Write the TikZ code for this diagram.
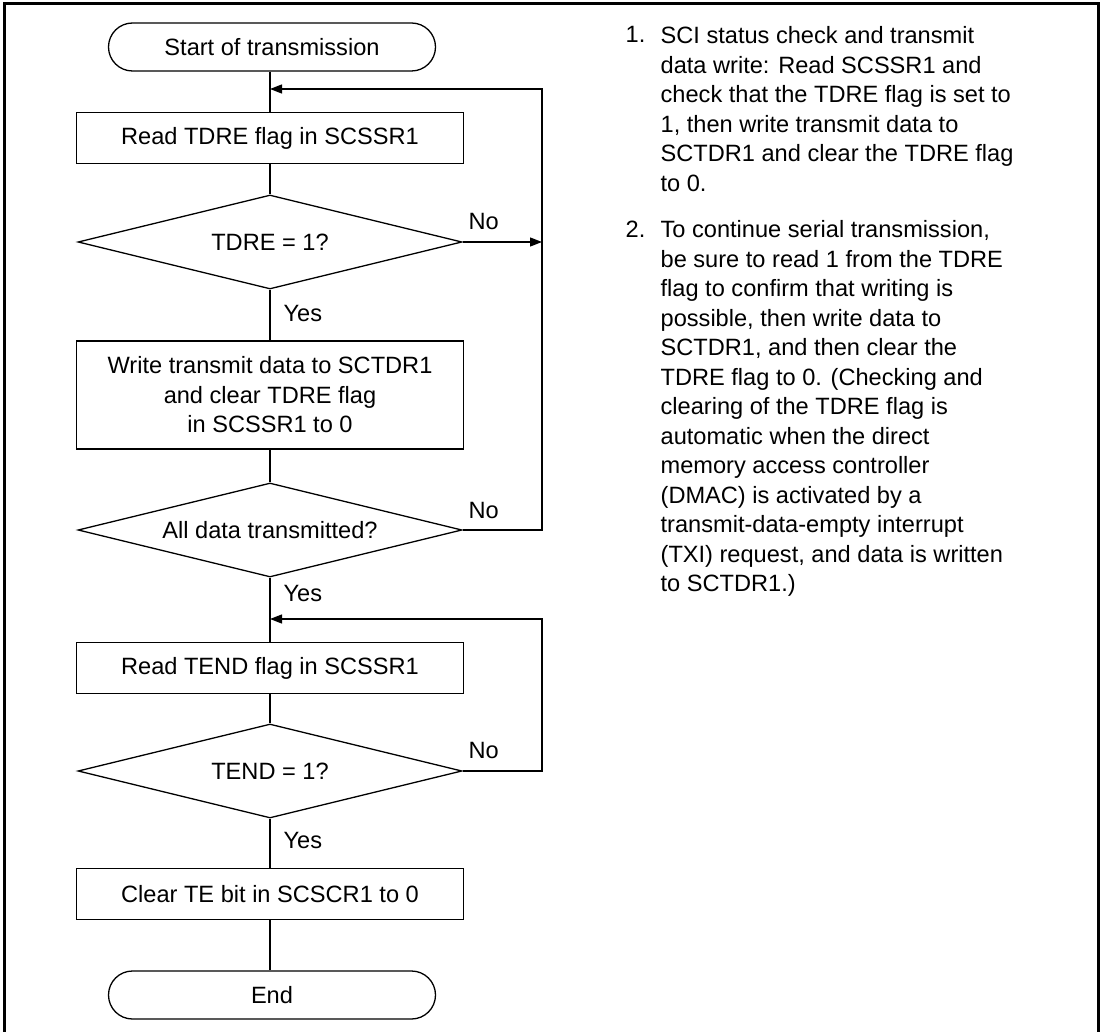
\documentclass[tikz,border=0pt]{standalone}
\usepackage{fontspec}
\setmainfont{Liberation Sans}
\usetikzlibrary{shapes.geometric,arrows.meta}

\begin{document}
\begin{tikzpicture}[x=0.5pt, y=-0.5pt, line width=0.65pt,
                    font=\fontsize{11.8}{14.75}\selectfont]
        % Estilos del diagrama
        \tikzset{term/.style={draw, rounded corners=12pt, minimum width=163.5pt, minimum height=24pt, inner sep=0pt},
                 proc/.style={draw, align=center, minimum width=193.5pt, minimum height=25.5pt, inner sep=0pt},
                 dec/.style={draw, diamond, aspect=4.1, minimum width=192pt, minimum height=47pt, inner sep=0pt},
                 flowarrow/.style={-{Triangle[length=6pt, width=4.5pt]}},
                 lbl/.style={anchor=west, inner sep=0pt},
                 note/.style={anchor=north west, align=left, inner sep=0pt}}
        \useasboundingbox (0,0) rectangle (1103,1032);

        % --- MARCO ---
        \draw[line width=1.5pt] (4,1032) -- (4,4) -- (1098,4) -- (1098,1032);

        % --- DIAGRAMA DE FLUJO ---
        \node[term] (start) at (272,47) {Start of transmission};
        \node[proc] (rdtdre) at (270,138) {Read TDRE flag in SCSSR1};
        \node[dec] (qtdre) at (270,242) {TDRE = 1?};
        \node[proc, minimum height=54pt] (wrdata) at (270,395) {Write transmit data to SCTDR1\\and clear TDRE flag\\in SCSSR1 to 0};
        \node[dec] (qall) at (270,530) {All data transmitted?};
        \node[proc] (rdtend) at (270,668) {Read TEND flag in SCSSR1};
        \node[dec] (qtend) at (270,771) {TEND = 1?};
        \node[proc] (clrte) at (270,894) {Clear TE bit in SCSCR1 to 0};
        \node[term] (stop) at (272,995) {End};

        % puntos de retorno
        \coordinate (j1) at (270,89);
        \coordinate (r1) at (542,89);
        \coordinate (j2) at (270,619);
        \coordinate (r2) at (542,619);

        \draw (rdtdre.north |- start.south) -- (rdtdre);
        \draw (rdtdre) -- (qtdre);
        \draw (qtdre) -- (wrdata);
        \draw (wrdata) -- (qall);
        \draw (qall) -- (rdtend);
        \draw (rdtend) -- (qtend);
        \draw (qtend) -- (clrte);
        \draw (clrte) -- (clrte.south |- stop.north);
        \draw[flowarrow] (qtdre.east) -- (qtdre.east -| r1);
        \draw[flowarrow] (qall.east) -| (r1) -- (j1);
        \draw[flowarrow] (qtend.east) -| (r2) -- (j2);

        % etiquetas Yes / No
        \node[lbl] (no1) at (468,221) {No};
        \node[lbl] (yes1) at (283,313) {Yes};
        \node[lbl] (no2) at (468,510) {No};
        \node[lbl] (yes2) at (283,593) {Yes};
        \node[lbl] (no3) at (468,750) {No};
        \node[lbl] (yes3) at (283,840) {Yes};

        % --- NOTAS ---
        \node[note] (num1) at (625,26) {1.};
        \node[note] (txt1) at (660,26) {SCI status check and transmit\\
            data write: Read SCSSR1 and\\
            check that the TDRE flag is set to\\
            1, then write transmit data to\\
            SCTDR1 and clear the TDRE flag\\
            to 0.};
        \node[note] (num2) at (625,220) {2.};
        \node[note] (txt2) at (660,220) {To continue serial transmission,\\
            be sure to read 1 from the TDRE\\
            flag to confirm that writing is\\
            possible, then write data to\\
            SCTDR1, and then clear the\\
            TDRE flag to 0. (Checking and\\
            clearing of the TDRE flag is\\
            automatic when the direct\\
            memory access controller\\
            (DMAC) is activated by a\\
            transmit-data-empty interrupt\\
            (TXI) request, and data is written\\
            to SCTDR1.)};
\end{tikzpicture}
\end{document}
